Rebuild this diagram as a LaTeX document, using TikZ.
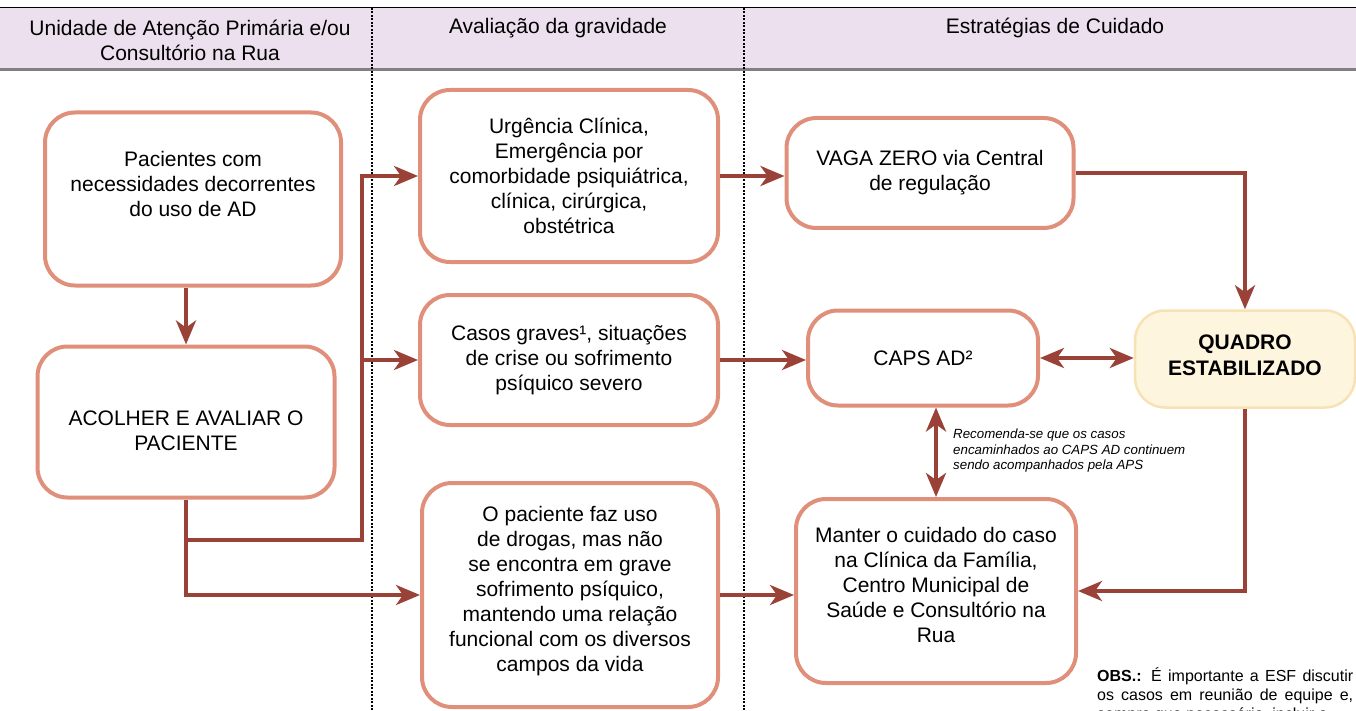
\documentclass[tikz,border=0pt]{standalone}
\usepackage{fontspec}
\setmainfont{Liberation Sans}
\usetikzlibrary{positioning,arrows.meta}
\definecolor{salmao}{HTML}{E0907A}
\definecolor{vinho}{HTML}{9B4238}
\definecolor{lilas}{HTML}{EDE0EE}
\definecolor{creme}{HTML}{FDF5DE}
\definecolor{cremeborda}{HTML}{F8E2B5}
\tikzset{
	caixa/.style={draw=salmao, line width=4pt, rounded corners=30pt, fill=white, align=center, inner sep=0pt, font=\fontsize{21}{25}\selectfont},
	seta/.style={draw=vinho, line width=4pt, -{Stealth[length=24pt,width=20pt,inset=7pt]}},
	dupla/.style={draw=vinho, line width=4pt, {Stealth[length=24pt,width=20pt,inset=7pt]}-{Stealth[length=24pt,width=20pt,inset=7pt]}},
	titulo/.style={align=center, inner sep=0pt, font=\fontsize{21}{25}\selectfont},
	divisa/.style={black, line width=2.5pt, dash pattern=on 2pt off 1.5pt}
}
\begin{document}
\begin{tikzpicture}[x=1pt, y=-1pt]
			\useasboundingbox (0,0) rectangle (1356,711);
			% cabecalho
			\fill[lilas] (0,8) rectangle (1356,70);
			\draw[black, line width=1pt] (0,8) -- (1356,8);
			\draw[gray, line width=3pt] (0,70) -- (1356,70);
			\node[titulo] (T1) at (190,40) {Unidade de Atenção Primária e/ou\\Consultório na Rua};
			\node[titulo] (T2) at (558,28) {Avaliação da gravidade};
			\node[titulo] (T3) at (1055,28) {Estratégias de Cuidado};
			\draw[divisa] (372,8) -- (372,711);
			\draw[divisa] (744,8) -- (744,711);
			% caixas
			\node[caixa, minimum width=296pt, minimum height=173pt, text depth=30pt] (Pac) at (193,199) {Pacientes com\\necessidades decorrentes\\do uso de AD};
			\node[caixa, minimum width=297pt, minimum height=151pt, text height=58pt] (Acol) at (186,422) {ACOLHER E AVALIAR O\\PACIENTE};
			\node[caixa, minimum width=298pt, minimum height=172pt] (Urg) at (569,176) {Urgência Clínica,\\Emergência por\\comorbidade psiquiátrica,\\clínica, cirúrgica,\\obstétrica};
			\node[caixa, minimum width=298pt, minimum height=130pt] (Grav) at (569,360) {Casos graves¹, situações\\de crise ou sofrimento\\psíquico severo};
			\node[caixa, minimum width=296pt, minimum height=224pt, text depth=12pt] (Uso) at (570,595) {O paciente faz uso\\de drogas, mas não\\se encontra em grave\\sofrimento psíquico,\\mantendo uma relação\\funcional com os diversos\\campos da vida};
			\node[caixa, minimum width=287pt, minimum height=110pt] (Vaga) at (930,173) {VAGA ZERO via Central\\de regulação};
			\node[caixa, minimum width=230pt, minimum height=95pt] (Caps) at (923,358) {CAPS AD²};
			\node[caixa, draw=cremeborda, fill=creme, line width=2.5pt, minimum width=220pt, minimum height=97pt, text depth=8pt, font=\fontsize{21}{26}\selectfont\bfseries] (Quadro) at (1245,359) {QUADRO\\ESTABILIZADO};
			\node[caixa, minimum width=280pt, minimum height=184pt, text depth=12pt] (Manter) at (936,591) {Manter o cuidado do caso\\na Clínica da Família,\\Centro Municipal de\\Saúde e Consultório na\\Rua};
			% textos soltos
			\node[anchor=north west, align=left, inner sep=0pt, font=\fontsize{13.3}{15.5}\selectfont\itshape] (Nota) at (953,429) {Recomenda-se que os casos\\encaminhados ao CAPS AD continuem\\sendo acompanhados pela APS};
			\node[anchor=north west, inner sep=0pt, text width=256pt, align=justify, font=\fontsize{16}{19}\selectfont] (Obs) at (1097,667) {\parfillskip=0pt \textbf{OBS.:} É importante a ESF discutir\linebreak os casos em reunião de equipe e,\linebreak sempre que necessário, incluir o};
			% setas
			\coordinate (junc) at (362,540);
			\draw[seta] (Acol.north |- Pac.south) -- (Acol.north);
			\draw[seta] (Acol.south) |- (junc) |- (Urg.west);
			\draw[seta] (junc |- Grav.west) -- (Grav.west);
			\draw[seta] (Acol.south) |- (Uso.west);
			\draw[seta] (Urg.east) -- (Urg.east -| Vaga.west);
			\draw[seta] (Grav.east) -- (Grav.east -| Caps.west);
			\draw[seta] (Uso.east) -- (Uso.east -| Manter.west);
			\draw[seta] (Vaga.east) -| (Quadro.north);
			\draw[seta] (Quadro.south) |- (Manter.east);
			\draw[dupla] (Caps.east) -- (Caps.east -| Quadro.west);
			\draw[dupla] (Manter.north |- Caps.south) -- (Manter.north);
		\end{tikzpicture}
\end{document}
